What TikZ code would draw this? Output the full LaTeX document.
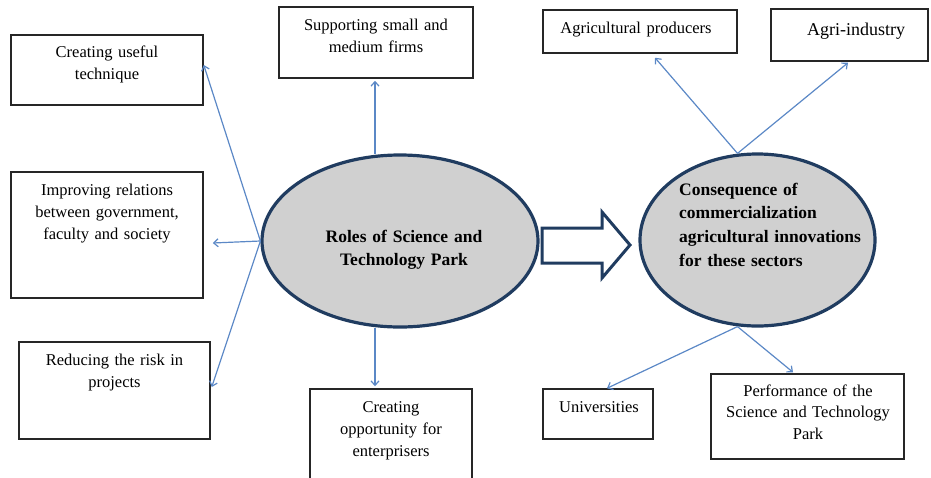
\documentclass[tikz,border=0pt]{standalone}
\usepackage{fontspec}
\setmainfont{Liberation Serif}
\usetikzlibrary{arrows.meta,shapes.geometric}
\definecolor{connc}{HTML}{5B88C6}
\definecolor{ellline}{HTML}{203C60}
\definecolor{ellfill}{HTML}{D0D0D0}
\definecolor{boxline}{HTML}{262626}
\begin{document}
\begin{tikzpicture}[x=1pt,y=-1pt,
  box/.style={draw=boxline, line width=1.5pt, inner sep=0pt},
  txt/.style={font=\fontsize{16.5}{22}\selectfont, text width=230pt, align=center, inner sep=0pt, anchor=base},
  btxt/.style={font=\fontsize{17.5}{23.7}\selectfont\bfseries, inner sep=0pt, anchor=base},
  oval/.style={ellipse, draw=ellline, fill=ellfill, line width=3.2pt, inner sep=0pt},
  conn/.style={draw=connc, line width=1.2pt, -{Straight Barb[length=4.5pt,width=8pt]}}]
\useasboundingbox (0,0) rectangle (931,477);
\clip (0,0) rectangle (931,477);

% boxes
\node[box, minimum width=192pt, minimum height=70pt] (cut) at (107,70) {};
\node[box, minimum width=192pt, minimum height=126pt] (imp) at (107,235) {};
\node[box, minimum width=191pt, minimum height=97pt] (red) at (114.5,390.5) {};
\node[box, minimum width=194pt, minimum height=71pt] (sup) at (376,42.5) {};
\node[box, minimum width=162pt, minimum height=91pt] (opp) at (391,434.5) {};
\node[box, minimum width=194pt, minimum height=43pt] (agp) at (640,31.5) {};
\node[box, minimum width=157pt, minimum height=52pt] (agi) at (849.5,35) {};
\node[box, minimum width=110pt, minimum height=50pt] (uni) at (598,414) {};
\node[box, minimum width=193pt, minimum height=85pt] (perf) at (807.5,416.5) {};

% texts
\node[txt] (cutT) at (107,57) {Creating useful\\technique};
\node[txt] (impT) at (107,195) {Improving relations\\between government,\\faculty and society};
\node[txt] (redT) at (114.5,365) {Reducing the risk in\\projects};
\node[txt] (supT) at (376,30) {Supporting small and\\medium firms};
\node[txt] (oppT) at (391,412) {Creating\\opportunity for\\enterprisers};
\node[txt] (agpT) at (636,33) {Agricultural producers};
\node[txt, font=\fontsize{18}{22}\selectfont] (agiT) at (856,35) {Agri-industry};
\node[txt] (uniT) at (599,412) {Universities};
\node[txt, font=\fontsize{16.5}{21.5}\selectfont] (perfT) at (808,396) {Performance of the\\Science and Technology\\Park};

% ellipses
\node[oval, minimum width=276pt, minimum height=172pt] (L) at (400,241) {};
\node[oval, minimum width=235pt, minimum height=172pt] (R) at (757.5,240) {};

% block arrow
\draw[ellline, line width=3pt, fill=white, line join=miter]
  (542,228) -- (602,228) -- (602,212) -- (630,245) -- (602,278) -- (602,263) -- (542,263) -- cycle;

% connectors
\draw[conn] (L.west) -- ([yshift=5pt]cut.east);
\draw[conn] (L.west) -- ([xshift=9pt,yshift=-8pt]imp.east);
\draw[conn] (L.west) -- ([yshift=3.5pt,xshift=1pt]red.east);
\draw[conn] ([xshift=-25pt,yshift=-1pt]L.north) -- ([xshift=-1pt,yshift=-2pt]sup.south);
\draw[conn] ([xshift=-25pt,yshift=1pt]L.south) -- ([xshift=-16pt,yshift=2pt]opp.north);
\draw[conn] ([xshift=-20pt,yshift=-1pt]R.north) -- ([xshift=15pt,yshift=-4pt]agp.south);
\draw[conn] ([xshift=-20pt,yshift=-1pt]R.north) -- ([xshift=-1.5pt,yshift=-1pt]agi.south);
\draw[conn] ([xshift=-20pt,yshift=1pt]R.south) -- ([xshift=9pt]uni.north);
\draw[conn] ([xshift=-20pt,yshift=1pt]R.south) -- ([xshift=-14.5pt,yshift=1pt]perf.north);

% ellipse texts
\node[btxt, text width=230pt, align=center] (LT) at (404,242) {Roles of Science and\\Technology Park};
\node[btxt, anchor=base west, text width=200pt, align=left] (RT) at (679,195) {Consequence of\\commercialization\\agricultural innovations\\for these sectors};
\end{tikzpicture}
\end{document}
